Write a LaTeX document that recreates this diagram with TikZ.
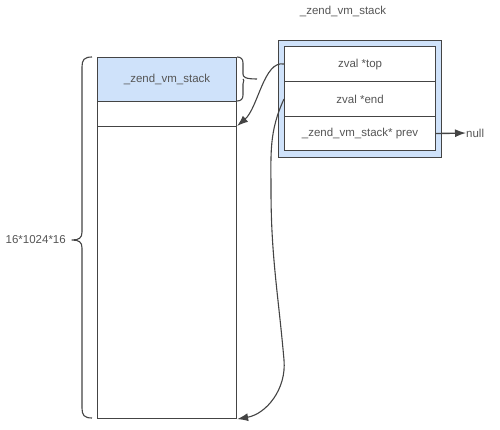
\documentclass[tikz,border=0pt]{standalone}
\usepackage{fontspec}
\setmainfont{Liberation Sans}
\usetikzlibrary{arrows.meta}
\definecolor{linec}{HTML}{444444}
\definecolor{textc}{HTML}{555555}
\definecolor{bluefill}{HTML}{CFE2FA}
\tikzset{
  cell/.style={draw=linec, line width=1.1pt, inner sep=0pt, anchor=north west, text=textc, font=\fontsize{11.5}{13}\selectfont},
  lbl/.style={text=textc, inner sep=0pt, font=\fontsize{11.5}{13}\selectfont},
  conn/.style={draw=linec, line width=1.1pt, -{Latex[length=11pt,width=8pt]}},
  brc/.style={draw=linec, line width=1.1pt, line join=round}
}
\begin{document}
\begin{tikzpicture}[x=1pt,y=-1pt]
\useasboundingbox (0,0) rectangle (500,430);
% left column
\node[cell, fill=bluefill, minimum width=139pt, minimum height=44pt] (hdr) at (97,57) {\_zend\_vm\_stack};
\node[cell, minimum width=139pt, minimum height=25pt] (gap) at (97,101) {};
\node[cell, minimum width=139pt, minimum height=292pt] (free) at (97,126) {};
% left brace
\draw[brc] (92,57) .. controls (84,57) and (82,60) .. (82,67) -- (82,232) .. controls (82,238) and (79,240) .. (72,240) .. controls (79,240) and (82,242) .. (82,248) -- (82,408) .. controls (82,415) and (84,418) .. (92,418);
\node[lbl, anchor=east] (size) at (66,240) {16*1024*16};
% small brace
\draw[brc] (237,57) .. controls (241,57) and (243,59) .. (243,63) -- (243,74) .. controls (243,77) and (245,79) .. (257,79);
\draw[brc] (243,79) .. controls (245,79) and (243,81) .. (243,84) -- (243,95) .. controls (243,99) and (241,101) .. (237,101);
% right struct
\node[lbl] (title) at (343,11) {\_zend\_vm\_stack};
\node[cell, fill=bluefill, line width=1.3pt, minimum width=163pt, minimum height=117pt] (outer) at (278,40) {};
\node[cell, fill=white, minimum width=151pt, minimum height=35pt] (top) at (284,46) {zval *top};
\node[cell, fill=white, minimum width=151pt, minimum height=35pt] (end) at (284,81) {zval *end};
\node[cell, fill=white, minimum width=151pt, minimum height=34pt] (prev) at (284,116) {\_zend\_vm\_stack* prev};
\node[lbl, anchor=west] (null) at (466,133) {null};
\draw[conn, line width=1.4pt] (prev.east) -- (null.west);
% pointers
\draw[conn] (top.west) .. controls (264,60) and (258,108) .. (free.north east);
\draw[conn] (end.west) to[out=245, in=90] (271,190) to[out=-90, in=95] (284,360) to[out=-85, in=10] (free.south east);
\end{tikzpicture}
\end{document}
